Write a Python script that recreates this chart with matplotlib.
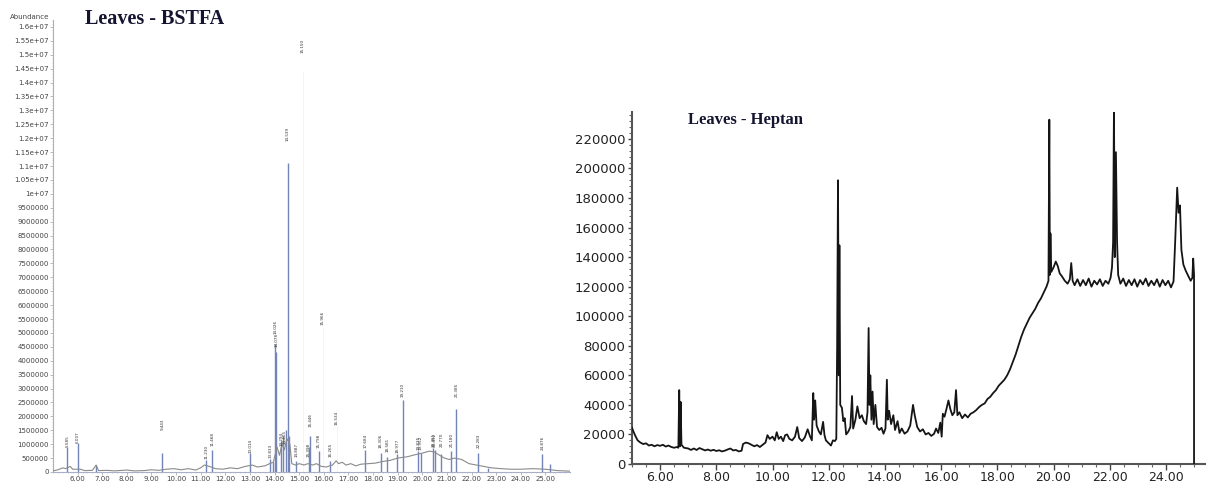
import matplotlib
matplotlib.use('Agg')
import matplotlib.pyplot as plt
from matplotlib.ticker import MultipleLocator, FuncFormatter

# ---------------- Left panel: Leaves - BSTFA ----------------
bstfa_base_t = [5.0, 5.2, 5.4, 5.5, 5.7, 5.8, 6.1, 6.3, 6.6, 6.75, 6.85, 7.2, 7.5, 8.0, 8.3, 8.7,
                9.0, 9.3, 9.6, 9.9, 10.2, 10.5, 10.8, 11.0, 11.15, 11.35, 11.6, 11.9, 12.2, 12.5,
                12.8, 13.1, 13.3, 13.6, 13.8, 13.95, 14.1, 14.2, 14.3, 14.4, 14.5, 14.62, 14.7,
                14.85, 15.0, 15.2, 15.35, 15.55, 15.7, 15.9, 16.1, 16.35, 16.5, 16.6, 16.75, 16.9,
                17.1, 17.3, 17.5, 17.8, 18.1, 18.4, 18.7, 19.0, 19.4, 19.7, 20.0, 20.3, 20.5, 20.7,
                20.9, 21.1, 21.3, 21.6, 21.9, 22.2, 22.5, 22.8, 23.2, 23.6, 24.0, 24.5, 25.0, 25.5, 26.0]
bstfa_base_v = [0.04e6, 0.08e6, 0.15e6, 0.12e6, 0.2e6, 0.1e6, 0.1e6, 0.05e6, 0.06e6, 0.25e6, 0.05e6,
                0.06e6, 0.04e6, 0.07e6, 0.04e6, 0.05e6, 0.08e6, 0.06e6, 0.1e6, 0.12e6, 0.08e6, 0.12e6,
                0.07e6, 0.15e6, 0.25e6, 0.2e6, 0.12e6, 0.1e6, 0.15e6, 0.12e6, 0.2e6, 0.25e6, 0.18e6,
                0.22e6, 0.3e6, 0.35e6, 0.9e6, 0.6e6, 1.0e6, 0.8e6, 1.2e6, 1.0e6, 0.3e6, 0.25e6, 0.3e6,
                0.25e6, 0.3e6, 0.25e6, 0.3e6, 0.2e6, 0.18e6, 0.25e6, 0.4e6, 0.3e6, 0.35e6, 0.25e6,
                0.3e6, 0.22e6, 0.28e6, 0.3e6, 0.32e6, 0.38e6, 0.42e6, 0.5e6, 0.55e6, 0.62e6, 0.68e6,
                0.75e6, 0.72e6, 0.6e6, 0.5e6, 0.45e6, 0.5e6, 0.45e6, 0.3e6, 0.25e6, 0.2e6, 0.15e6,
                0.12e6, 0.1e6, 0.1e6, 0.12e6, 0.1e6, 0.05e6, 0.03e6]

bstfa_peak_t = [5.585, 6.007, 6.75, 9.443, 11.230, 11.468, 13.014, 13.833, 13.95, 14.026, 14.078,
                14.25, 14.35, 14.45, 14.539, 14.60, 14.887, 15.398, 15.446, 15.798, 16.265,
                17.684, 18.306, 18.581, 18.977, 19.210, 19.835, 19.95, 20.45, 20.50, 20.770,
                21.180, 21.385, 22.283, 22.65, 24.876, 25.2]
bstfa_peak_h = [0.9e6, 1.05e6, 0.25e6, 0.7e6, 0.43e6, 0.8e6, 0.68e6, 0.45e6, 0.35e6, 4.6e6, 4.3e6,
                1.1e6, 1.3e6, 1.5e6, 11.1e6, 1.3e6, 0.4e6, 0.9e6, 1.3e6, 0.75e6, 0.4e6,
                0.8e6, 0.7e6, 0.55e6, 0.65e6, 2.6e6, 0.75e6, 0.7e6, 0.85e6, 0.8e6, 0.65e6,
                0.75e6, 2.25e6, 0.7e6, 0.15e6, 0.65e6, 0.3e6]

# peaks whose lines are barely visible in the picture (only their labels show)
bstfa_faint_t = [15.150, 15.966, 16.534]
bstfa_faint_h = [14.4e6, 5.2e6, 1.6e6]

bstfa_label_t = [5.585, 6.007, 9.443, 11.230, 11.468, 13.014, 13.833, 14.026, 14.078, 14.294,
                 14.405, 14.539, 15.150, 14.887, 15.398, 15.446, 15.798, 15.966, 16.265, 16.534,
                 17.684, 18.306, 18.581, 18.977, 19.210, 19.835, 19.95, 20.451, 20.52, 20.770,
                 21.180, 21.385, 22.283, 24.876]
bstfa_label_y = [0.9e6, 1.05e6, 1.5e6, 0.45e6, 0.93e6, 0.7e6, 0.5e6, 4.95e6, 4.5e6, 0.95e6,
                 1.0e6, 11.9e6, 15.05e6, 0.55e6, 0.55e6, 1.6e6, 0.86e6, 5.3e6, 0.55e6, 1.7e6,
                 0.86e6, 0.86e6, 0.72e6, 0.68e6, 2.7e6, 0.8e6, 0.8e6, 0.9e6, 0.9e6, 0.9e6,
                 0.9e6, 2.7e6, 0.86e6, 0.8e6]
bstfa_labels = ['5.585', '6.007', '9.443', '11.230', '11.468', '13.014', '13.833', '14.026',
                '14.078', '14.294', '14.405', '14.539', '15.150', '14.887', '15.398', '15.446',
                '15.798', '15.966', '16.265', '16.534', '17.684', '18.306', '18.581', '18.977',
                '19.210', '19.835', '19.952', '20.451', '20.492', '20.770', '21.180', '21.385',
                '22.283', '24.876']

bstfa_xticks = [6, 7, 8, 9, 10, 11, 12, 13, 14, 15, 16, 17, 18, 19, 20, 21, 22, 23, 24, 25]

# ---------------- Right panel: Leaves - Heptan ----------------
hept_t = [5.00, 5.05, 5.12, 5.2, 5.3, 5.4, 5.5, 5.6, 5.7, 5.8, 5.9, 6.0, 6.1, 6.2, 6.3, 6.4, 6.5,
          6.6, 6.65, 6.68, 6.71, 6.73, 6.76, 6.85, 7.0, 7.1, 7.2, 7.3, 7.4, 7.5, 7.6, 7.7, 7.8,
          7.9, 8.0, 8.1, 8.2, 8.3, 8.4, 8.5, 8.6, 8.7, 8.8, 8.9, 8.95, 9.05, 9.15, 9.25, 9.35,
          9.45, 9.55, 9.65, 9.75, 9.82, 9.9, 10.0, 10.08, 10.15, 10.22, 10.3, 10.38, 10.45,
          10.52, 10.6, 10.7, 10.8, 10.88, 10.95, 11.05, 11.15, 11.25, 11.33, 11.4, 11.45, 11.48,
          11.52, 11.57, 11.65, 11.72, 11.8, 11.85, 11.9, 12.0, 12.08, 12.15, 12.22, 12.27, 12.3,
          12.33, 12.36, 12.38, 12.41, 12.47, 12.52, 12.57, 12.62, 12.7, 12.77, 12.83, 12.87,
          12.95, 13.02, 13.1, 13.18, 13.25, 13.33, 13.38, 13.42, 13.45, 13.48, 13.52, 13.56,
          13.6, 13.66, 13.72, 13.8, 13.88, 13.95, 14.02, 14.07, 14.1, 14.15, 14.22, 14.3, 14.36,
          14.45, 14.52, 14.6, 14.7, 14.8, 14.9, 15.0, 15.06, 15.15, 15.25, 15.35, 15.45, 15.55,
          15.65, 15.75, 15.82, 15.9, 15.97, 16.02, 16.06, 16.12, 16.2, 16.26, 16.33, 16.4, 16.47,
          16.53, 16.58, 16.65, 16.75, 16.85, 16.95, 17.05, 17.15, 17.25, 17.35, 17.45, 17.55,
          17.65, 17.75, 17.85, 17.95, 18.05, 18.15, 18.25, 18.35, 18.45, 18.55, 18.65, 18.75,
          18.85, 18.95, 19.05, 19.15, 19.25, 19.35, 19.45, 19.55, 19.65, 19.75, 19.82, 19.85,
          19.87, 19.89, 19.92, 20.0, 20.08, 20.15, 20.22, 20.3, 20.4, 20.5, 20.58, 20.63, 20.68,
          20.75, 20.85, 20.95, 21.05, 21.15, 21.25, 21.35, 21.45, 21.55, 21.65, 21.75, 21.85,
          21.95, 22.03, 22.08, 22.12, 22.15, 22.18, 22.22, 22.26, 22.3, 22.38, 22.48, 22.58,
          22.68, 22.78, 22.88, 22.98, 23.08, 23.18, 23.28, 23.38, 23.48, 23.58, 23.68, 23.78,
          23.88, 23.98, 24.08, 24.18, 24.27, 24.33, 24.4, 24.45, 24.5, 24.55, 24.62, 24.7, 24.8,
          24.88, 24.94, 24.97, 25.0, 25.0]
hept_v = [24500, 22000, 19000, 16000, 14500, 13500, 14000, 12500, 13000, 12000, 12800, 12300,
          13000, 11800, 12500, 11500, 11000, 11500, 11000, 50000, 12000, 42000, 13000, 11000,
          10500, 9500, 10500, 9500, 10800, 10000, 9200, 9800, 9000, 9600, 8800, 9300, 8500, 9000,
          9800, 10500, 9200, 9500, 8500, 9000, 13500, 14500, 14000, 13000, 12000, 12800, 11500,
          13000, 14500, 19500, 17000, 18500, 16000, 21500, 17000, 18500, 15500, 19500, 20000,
          17000, 16000, 18500, 25000, 17500, 15500, 18000, 23500, 19000, 16000, 48000, 30000,
          43000, 26000, 22000, 20000, 28500, 19500, 16000, 14000, 12500, 16000, 15500, 17000,
          80000, 192000, 60000, 148000, 40000, 38000, 29000, 31000, 20000, 22000, 25000, 46000,
          24000, 30000, 39000, 31000, 33000, 29000, 27000, 35000, 92000, 40000, 60000, 30000,
          49000, 27000, 40000, 25000, 23000, 24500, 20500, 24000, 57000, 30000, 36000, 27000,
          33000, 23000, 29000, 21000, 24000, 20500, 22000, 26000, 40000, 33000, 25000, 22000,
          23500, 20000, 21000, 19000, 20500, 24000, 21000, 28000, 18500, 34000, 32000, 38000,
          43000, 37000, 33000, 35000, 50000, 33000, 35000, 31000, 33500, 31500, 34000, 35000,
          36500, 38500, 40000, 41000, 44000, 45500, 48000, 50000, 53000, 55000, 57000, 60000,
          64000, 69000, 74000, 80000, 86000, 91000, 95000, 99000, 102000, 105000, 109000, 112000,
          116000, 120000, 124000, 233000, 128000, 156000, 130000, 133000, 137000, 134000, 129000,
          127000, 124000, 122000, 125000, 136000, 124000, 121000, 125000, 120500, 124500, 121000,
          125500, 120000, 124000, 121500, 125000, 120500, 124000, 122000, 126000, 133000, 150000,
          240000, 140000, 211000, 151000, 128000, 122000, 125500, 120500, 124500, 121000, 125000,
          120000, 124500, 121500, 125500, 120500, 124000, 121000, 125000, 120000, 124500, 121000,
          124000, 119500, 123500, 151000, 187000, 170000, 175000, 145000, 135000, 131000, 127000,
          124000, 126000, 139000, 128000, 0]

hept_xticks = [6, 8, 10, 12, 14, 16, 18, 20, 22, 24]
hept_yticks = [0, 20000, 40000, 60000, 80000, 100000, 120000, 140000, 160000, 180000, 200000,
               220000]

# ---------------- Figure ----------------
W, H = 1208, 482
fig = plt.figure(figsize=(W / 100, H / 100), dpi=100)
fig.patch.set_facecolor('white')

# Left axes
axL = fig.add_axes([53 / W, 1 - 472 / H, 517 / W, 452 / H])
axL.set_xlim(5.0, 26.0)
axL.set_ylim(0, 16.25e6)
peak_col = '#7384b8'
axL.vlines(bstfa_faint_t, 0, bstfa_faint_h, color='#f3f4f8', lw=0.7, zorder=1)
axL.vlines(bstfa_peak_t, 0, bstfa_peak_h, color=peak_col, lw=1.0, zorder=2)
axL.plot(bstfa_base_t, bstfa_base_v, color='#8a8a8a', lw=0.8, zorder=3)
for t, y, s in zip(bstfa_label_t, bstfa_label_y, bstfa_labels):
    axL.text(t, y, s, rotation=90, fontsize=3, ha='center', va='bottom', color='#333333',
             zorder=4)
for sp in ['top', 'right']:
    axL.spines[sp].set_visible(False)
for sp in ['left', 'bottom']:
    axL.spines[sp].set_color('#a7b0c8')
    axL.spines[sp].set_linewidth(0.8)
axL.yaxis.set_major_locator(MultipleLocator(500000))
axL.yaxis.set_minor_locator(MultipleLocator(100000))
axL.yaxis.set_major_formatter(
    FuncFormatter(lambda v, p: ('%g' % v) if v >= 1e7 else '%d' % round(v)))
axL.set_xticks(bstfa_xticks)
axL.set_xticklabels(['%.2f' % v for v in bstfa_xticks])
axL.xaxis.set_minor_locator(MultipleLocator(0.2))
axL.tick_params(axis='both', which='major', labelsize=5, length=2, width=0.5,
                colors='#9aa0b0', labelcolor='#444444', pad=1)
axL.tick_params(axis='both', which='minor', length=1, width=0.4, colors='#b0b5c5')
fig.text(10 / W, 1 - 17 / H, 'Abundance', fontsize=5, color='#444444', va='center')
fig.text(85 / W, 1 - 19 / H, 'Leaves - BSTFA', fontsize=14.5, fontweight='bold',
         family='Liberation Serif', color='#141430', va='center')

# Right axes
axR = fig.add_axes([632 / W, 1 - 464 / H, 573 / W, 352 / H])
axR.set_xlim(5.0, 25.39)
axR.set_ylim(0, 238200)
axR.plot(hept_t, hept_v, color='#151515', lw=1.3, zorder=3)
for sp in ['top', 'right']:
    axR.spines[sp].set_visible(False)
for sp in ['left', 'bottom']:
    axR.spines[sp].set_color('#555555')
    axR.spines[sp].set_linewidth(1.5)
axR.set_xticks(hept_xticks)
axR.set_xticklabels(['%.2f' % v for v in hept_xticks])
axR.set_yticks(hept_yticks)
axR.set_yticklabels(['%d' % v for v in hept_yticks])
axR.xaxis.set_minor_locator(MultipleLocator(0.5))
axR.yaxis.set_minor_locator(MultipleLocator(4000))
axR.tick_params(axis='x', which='major', labelsize=9, length=4, width=1.0,
                colors='#444444', labelcolor='#222222', pad=1)
axR.tick_params(axis='y', which='major', labelsize=9.5, length=3, width=1.0,
                colors='#444444', labelcolor='#222222', pad=2)
axR.tick_params(axis='both', which='minor', length=2, width=0.8, colors='#666666')
fig.text(688 / W, 1 - 120 / H, 'Leaves - Heptan', fontsize=12, fontweight='bold',
         family='Liberation Serif', color='#141430', va='center')

fig.savefig('out.png', dpi=100, facecolor='white')
